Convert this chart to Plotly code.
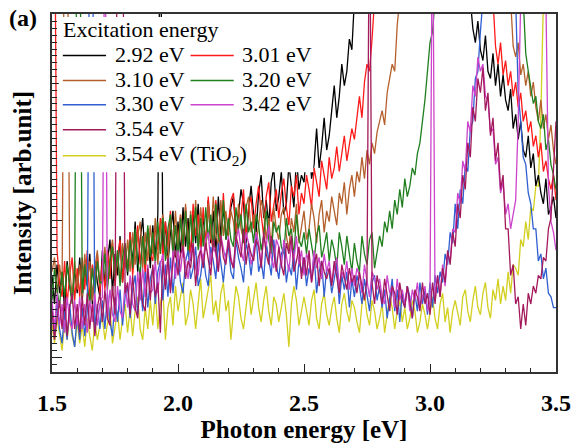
import numpy as np
import plotly.graph_objects as go

# Photon energy grid (eV), 0.01 eV steps from 1.50 to 3.50
energy = np.round(np.arange(201) * 0.01 + 1.5, 2)

# PL intensity (arb. units) per excitation energy; None = saturated next to the laser line
I_292 = ([27, 19, 30, 22, 28, 17, 31, 24, 20, 29,
          22, 32, 20, 30, 24, 33, 19, 31, 25, 21,
          34, 24, 31, 37, 22, 33, 27, 38, 25, 35,
          27, 39, 30, 42, 28, 37, 43, 31, 40, 29,
          41, 32, 44, 140, 33, 42, 30, 39, 45, 32,
          42, 33, 46, 35, 43, 31, 45, 36, 47, 34,
          44, 35, 48, 36, 45, 33, 49, 38, 46, 37,
          40, 46, 49, 38, 44, 51, 47, 36, 45, 52,
          44, 39, 50, 55, 43, 48, 41, 53, 57, 45,
          49, 56, 44, 47, 58, 52, 46, 60, 51, 55,
          53, 61, 65, 54, 58, 68, 57, 63, 71, 62,
          66, 73, 80, 71, 77, 86, 80, 84, 93, 90,
          104]
         + [None] * 45
         + [104, 96, 92, 98,
            90, 87, 94, 84, 82, 89, 80, 86, 77, 83,
            76, 73, 79, 68, 72, 65, 70, 62, 60, 66,
            57, 61, 52, 55, 50, 47, 54, 44, 46, 49,
            43])

I_301 = ([140, 140, 34, 25, 21, 31, 19, 27, 32, 20,
          29, 21, 32, 23, 34, 20, 30, 24, 33, 22,
          31, 23, 34, 26, 36, 24, 32, 37, 25, 35,
          29, 39, 27, 35, 41, 30, 38, 27, 40, 33,
          31, 41, 34, 43, 31, 42, 35, 45, 32, 41,
          35, 44, 32, 46, 37, 33, 47, 38, 44, 34,
          46, 35, 49, 38, 34, 48, 40, 36, 50, 38,
          41, 48, 50, 39, 45, 43, 51, 37, 46, 49,
          40, 47, 52, 44, 38, 49, 53, 42, 47, 51,
          43, 50, 54, 46, 41, 52, 49, 55, 44, 50,
          47, 55, 51, 46, 57, 53, 49, 59, 55, 51,
          60, 54, 57, 63, 56, 61, 66, 59, 64, 68,
          65, 72, 77, 71, 81, 86, 84, 93, 104]
         + [None] * 46
         + [104, 91, 86, 92, 83,
            87, 80, 84, 77, 81, 74, 78, 70, 73, 67,
            70, 63, 66, 60, 64, 56, 59, 54, 51, 55,
            48])

I_310 = ([28, 32, 22, 30, 24, 140, 140, 29, 21, 31,
          23, 30, 21, 33, 25, 31, 20, 29, 34, 24,
          27, 35, 24, 32, 37, 27, 34, 25, 36, 29,
          37, 28, 39, 30, 38, 42, 29, 39, 31, 41,
          33, 43, 30, 40, 44, 34, 31, 43, 35, 45,
          34, 44, 36, 47, 34, 45, 37, 48, 35, 46,
          38, 34, 47, 37, 49, 39, 35, 48, 38, 45,
          38, 45, 42, 35, 47, 40, 37, 46, 49, 39,
          44, 36, 41, 48, 45, 37, 43, 35, 46, 40,
          37, 44, 46, 38, 34, 43, 39, 47, 36, 41,
          45, 37, 40, 47, 43, 36, 44, 48, 39, 45,
          42, 49, 45, 41, 50, 47, 53, 44, 51, 55,
          49, 56, 53, 60, 54, 62, 58, 64, 61, 67,
          70, 73, 69, 78, 82, 86, 84, 97, 104]
         + [None] * 43
         + [104, 91, 88, 92, 83, 86, 80, 84,
            77, 81, 74, 70, 76, 68, 72, 65, 69, 62,
            58])

I_320 = ([20, 29, 23, 18, 28, 21, 30, 24, 19, 29,
          140, 140, 22, 30, 24, 19, 29, 22, 31, 25,
          25, 33, 23, 31, 35, 26, 34, 24, 32, 36,
          28, 37, 29, 40, 31, 27, 38, 30, 41, 32,
          39, 30, 42, 33, 43, 31, 40, 44, 33, 41,
          32, 43, 35, 45, 33, 44, 36, 46, 34, 43,
          35, 46, 37, 44, 34, 47, 38, 35, 48, 37,
          43, 37, 35, 46, 40, 44, 36, 47, 39, 42,
          36, 44, 41, 34, 38, 45, 37, 33, 42, 39,
          41, 35, 33, 43, 38, 40, 32, 44, 37, 35,
          39, 33, 40, 36, 31, 38, 41, 32, 35, 39,
          31, 37, 34, 29, 39, 35, 30, 38, 33, 28,
          36, 31, 28, 38, 33, 30, 37, 39, 29, 34,
          38, 35, 42, 39, 45, 40, 48, 44, 51, 46,
          54, 49, 52, 57, 55, 61, 64, 70, 76, 84,
          92, 95, 104]
         + [None] * 34
         + [104, 89, 84,
            80, 75, 77, 70, 68, 72, 62, 65, 58, 55,
            51])

I_330 = ([18, 10, 20, 12, 8, 17, 9, 19, 11, 7,
          16, 9, 18, 10, 17, 140, 140, 11, 19, 12,
          20, 12, 22, 14, 10, 21, 14, 23, 13, 21,
          24, 15, 23, 27, 16, 25, 17, 28, 18, 26,
          29, 19, 28, 31, 20, 30, 21, 32, 22, 30,
          32, 25, 22, 31, 34, 26, 29, 35, 24, 27,
          33, 27, 24, 35, 31, 26, 36, 30, 25, 33,
          35, 28, 26, 37, 32, 29, 25, 36, 33, 27,
          34, 38, 28, 31, 26, 36, 32, 27, 37, 30,
          26, 33, 35, 25, 30, 27, 34, 23, 31, 28,
          32, 24, 29, 26, 33, 22, 28, 31, 21, 29,
          28, 22, 26, 30, 19, 27, 23, 28, 18, 26,
          21, 27, 24, 19, 26, 22, 17, 25, 27, 20,
          24, 18, 23, 15, 20, 26, 17, 23, 14, 22,
          18, 24, 21, 15, 22, 17, 25, 19, 23, 16,
          25, 18, 27, 22, 28, 25, 33, 30, 39, 36,
          47, 40, 51, 47, 58, 56, 68, 70, 82, 84,
          95, 104]
         + [None] * 12
         + [104, 78, 70, 60, 58, 50,
            47, 40, 40, 31, 33, 26, 29, 22, 21, 18,
            18])

I_342 = ([20, 12, 22, 13, 19, 11, 21, 14, 12, 20,
          13, 21, 12, 19, 11, 20, 14, 22, 13, 19,
          21, 140, 15, 23, 16, 14, 24, 17, 15, 25,
          18, 27, 19, 17, 28, 20, 29, 21, 30, 22,
          23, 31, 22, 30, 33, 24, 32, 23, 34, 26,
          34, 28, 35, 31, 26, 33, 36, 29, 27, 35,
          31, 37, 39, 30, 35, 33, 28, 38, 34, 31,
          38, 32, 29, 37, 40, 34, 31, 39, 36, 30,
          33, 39, 36, 30, 38, 35, 41, 32, 29, 37,
          35, 29, 37, 33, 28, 36, 31, 38, 30, 34,
          27, 33, 31, 25, 34, 29, 32, 26, 33, 28,
          31, 25, 29, 32, 24, 28, 26, 31, 23, 29,
          24, 29, 27, 22, 30, 25, 21, 28, 26, 23,
          26, 21, 19, 27, 22, 24, 18, 26, 20, 23,
          19, 24, 17, 23, 20, 25, 18, 21, 24, 17,
          20, 140, 20, 27, 21, 30, 24, 33, 31, 40,
          39, 50, 47, 59, 56, 70, 67, 80, 77, 88,
          84, 86, 77, 76, 67, 68, 58, 60, 50, 53,
          44, 47, 40, 44, 48, 70, 104]
         + [None] * 9
         + [104, 52, 42, 39,
            34])

I_354 = [17, 9, 15, 20, 12, 21, 10, 18, 22, 12,
         19, 11, 21, 13, 22, 12, 19, 10, 18, 22,
         14, 23, 15, 13, 24, 16, 140, 140, 140, 22,
         25, 16, 27, 18, 15, 28, 19, 17, 29, 20,
         30, 21, 25, 11, 31, 23, 32, 22, 31, 34,
         27, 33, 35, 26, 31, 29, 36, 24, 32, 34,
         29, 36, 31, 27, 37, 34, 28, 38, 32, 30,
         37, 31, 29, 38, 35, 32, 40, 30, 36, 33,
         31, 37, 35, 29, 39, 33, 30, 38, 34, 28,
         35, 30, 27, 36, 33, 38, 28, 31, 35, 26,
         32, 27, 34, 25, 30, 33, 24, 31, 28, 26,
         29, 24, 31, 27, 22, 30, 26, 23, 29, 25,
         27, 22, 28, 24, 20, 26, 140, 25, 19, 27,
         23, 19, 26, 21, 17, 24, 22, 16, 25, 20,
         18, 24, 20, 15, 23, 21, 17, 25, 19, 22,
         16, 25, 19, 27, 21, 29, 25, 34, 30, 39,
         35, 47, 43, 55, 51, 64, 60, 74, 70, 82,
         78, 85, 73, 78, 66, 71, 59, 64, 51, 55,
         40, 40, 27, 30, 19, 21, 12, 19, 13, 22,
         19, 24, 22, 27, 26, 32, 31, 40, 43, 56,
         70]

I_354_TiO2 = ([13, 8, 15, 10, 6, 14, 9, 16, 10, 7,
               14, 8, 13, 7, 15, 10, 6, 14, 9, 13,
               15, 9, 14, 18, 8, 13, 17, 9, 15, 19,
               11, 18, 10, 17, 21, 12, 9, 18, 12, 20,
               13, 22, 12, 19, 23, 9, 18, 21, 13, 24,
               17, 21, 25, 13, 16, 23, 19, 12, 20, 26,
               15, 19, 23, 27, 16, 20, 14, 22, 25, 17,
               20, 9, 17, 24, 21, 15, 12, 19, 24, 16,
               21, 25, 18, 14, 20, 24, 17, 13, 21, 19,
               14, 18, 22, 16, 7, 19, 24, 20, 13, 17,
               21, 17, 13, 20, 23, 15, 12, 19, 22, 16,
               13, 18, 21, 15, 11, 19, 22, 17, 14, 20,
               18, 14, 11, 19, 22, 16, 13, 20, 17, 12,
               15, 19, 11, 16, 21, 18, 12, 17, 20, 14,
               18, 12, 15, 20, 17, 11, 14, 19, 16, 12,
               17, 21, 15, 12, 19, 22, 14, 18, 11, 17,
               20, 16, 13, 21, 23, 17, 14, 20, 24, 18,
               16, 22, 25, 18, 15, 23, 20, 26, 19, 24,
               20, 28, 22, 30, 29, 27, 37, 35, 42, 37,
               46, 45, 52, 52, 72, 104]
              + [None] * 5)

labels = ["2.92 eV", "3.01 eV", "3.10 eV", "3.20 eV",
          "3.30 eV", "3.42 eV", "3.54 eV", "3.54 eV (TiO<sub>2</sub>)"]
series = [I_292, I_301, I_310, I_320, I_330, I_342, I_354, I_354_TiO2]
colors = ["#000000", "#ff1a1a", "#b5602c", "#1f7f1f",
          "#2f5fd0", "#cc44cc", "#a3195b", "#d2cf1e"]

assert all(len(s) == len(energy) for s in series), [len(s) for s in series]

# drawing order: TiO2 reference underneath, then the sample spectra
order = [7, 0, 1, 2, 3, 4, 5, 6]

fig = go.Figure()
for k in order:
    fig.add_trace(go.Scatter(x=energy, y=series[k], mode="lines", name=labels[k],
                             line=dict(color=colors[k], width=1.3),
                             connectgaps=False, showlegend=False))

# --- plot geometry helpers (pixel -> paper) ---
W, H = 583, 447
ML, MR, MT, MB = 52, 18, 14, 62
PW, PH = W - ML - MR, H - MT - MB


def px(x):
    return (x - ML) / PW


def py(y):
    return (H - MB - y) / PH


serif = "Liberation Serif"

# --- custom two-column legend on a white panel ---
shapes = [dict(type="rect", xref="paper", yref="paper", layer="above",
               x0=px(59), x1=px(318), y0=py(178), y1=py(17),
               fillcolor="white", line=dict(width=0))]
annotations = [dict(text="Excitation energy", xref="paper", yref="paper",
                    x=px(61), y=py(30), xanchor="left", yanchor="middle",
                    showarrow=False, font=dict(family=serif, size=22, color="black"))]
grid = [(0, 0), (1, 0), (0, 1), (1, 1), (0, 2), (1, 2), (0, 3), (0, 4)]
col_line = [(63, 107), (193, 237)]
col_text = [114, 243]
row_y = [57, 83, 108, 134, 161]
for k, (c, r) in enumerate(grid):
    shapes.append(dict(type="line", xref="paper", yref="paper", layer="above",
                       x0=px(col_line[c][0]), x1=px(col_line[c][1]),
                       y0=py(row_y[r]), y1=py(row_y[r]),
                       line=dict(color=colors[k], width=1.5)))
    annotations.append(dict(text=labels[k], xref="paper", yref="paper",
                            x=px(col_text[c]), y=py(row_y[r] - 1),
                            xanchor="left", yanchor="middle", showarrow=False,
                            font=dict(family=serif, size=22, color="black")))

annotations.append(dict(text="<b>(a)</b>", xref="paper", yref="paper",
                        x=px(6), y=py(18), xanchor="left", yanchor="middle",
                        showarrow=False, font=dict(family=serif, size=24, color="black")))

fig.update_layout(
    width=W, height=H,
    margin=dict(l=ML, r=MR, t=MT, b=MB),
    paper_bgcolor="white", plot_bgcolor="white",
    shapes=shapes, annotations=annotations,
    showlegend=False,
)

fig.update_xaxes(
    range=[1.5, 3.5], tick0=1.5, dtick=0.5, tickformat=".1f",
    ticks="inside", ticklen=8, tickwidth=1.2, tickcolor="#222",
    minor=dict(dtick=0.1, ticks="inside", ticklen=4, tickcolor="#222", tickwidth=1),
    showline=True, linecolor="#333", linewidth=1.5, mirror=True,
    showgrid=False, zeroline=False, ticklabelstandoff=8,
    tickfont=dict(family=serif, size=24, color="black", weight="bold"),
    title=dict(text="Photon energy [eV]", standoff=2,
               font=dict(family=serif, size=25, color="black", weight="bold")),
)

fig.update_yaxes(
    range=[0, 100], tick0=4.04, dtick=38.3, showticklabels=False,
    ticks="inside", ticklen=10, tickwidth=1.2, tickcolor="#222",
    minor=dict(tick0=4.04, dtick=1.915, ticks="inside", ticklen=5, tickcolor="#222", tickwidth=1),
    showline=True, linecolor="#333", linewidth=1.5, mirror=True,
    showgrid=False, zeroline=False,
    title=dict(text="Intensity [arb.unit]", standoff=12,
               font=dict(family=serif, size=25, color="black", weight="bold")),
)

fig.write_html("out.html")
